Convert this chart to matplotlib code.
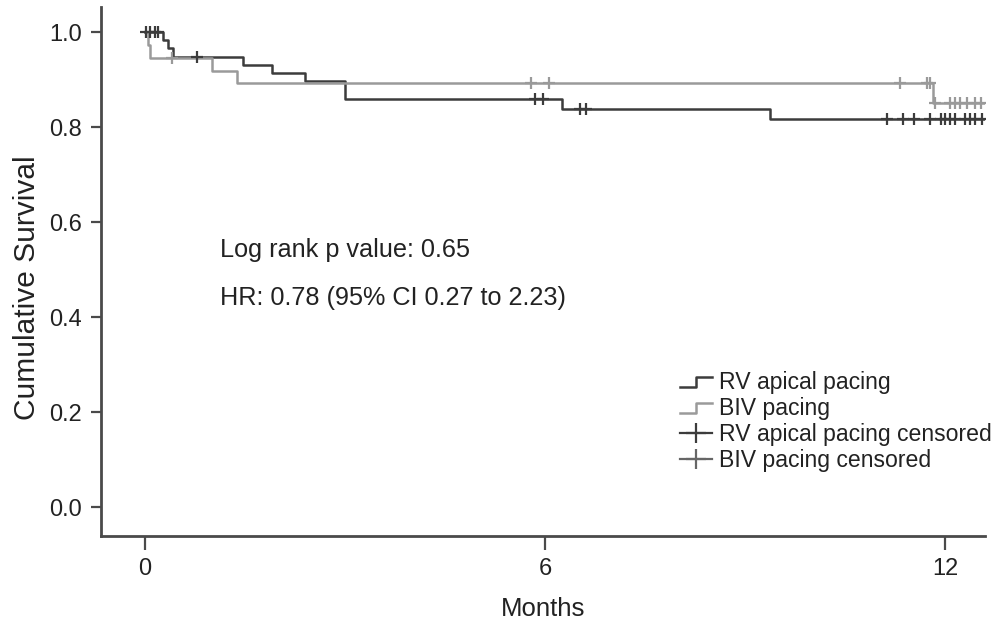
import matplotlib
matplotlib.use("Agg")
import matplotlib.pyplot as plt
import numpy as np
from matplotlib.legend_handler import HandlerBase
from matplotlib.lines import Line2D

plt.rcParams['font.family'] = ['Liberation Sans', 'DejaVu Sans']

# Kaplan-Meier step data (months, cumulative survival)
rv_times = [0.0, 0.27, 0.35, 0.42, 1.47, 1.90, 2.40, 3.00, 6.25, 9.37, 12.60]
rv_surv = [1.0, 0.983, 0.966, 0.948, 0.931, 0.914, 0.897, 0.860, 0.838, 0.816, 0.816]
biv_times = [0.0, 0.04, 0.08, 1.00, 1.38, 11.82, 12.60]
biv_surv = [1.0, 0.973, 0.946, 0.919, 0.892, 0.850, 0.850]

# censoring times
rv_censored = [0.02, 0.08, 0.15, 0.20, 0.78, 5.85, 5.97, 6.52, 6.62,
               11.13, 11.37, 11.54, 11.78, 11.94, 12.00, 12.07, 12.15,
               12.30, 12.37, 12.45, 12.55]
biv_censored = [0.40, 5.79, 6.06, 11.33, 11.73, 11.78, 11.85, 12.07, 12.15,
                12.22, 12.33, 12.45, 12.54]

x_ticks = [0, 6, 12]
y_ticks = [0.0, 0.2, 0.4, 0.6, 0.8, 1.0]

dark = '#3c3c3c'
light = '#9a9a9a'


def surv_at(times, surv, t):
    idx = np.searchsorted(times, t, side='right') - 1
    return np.asarray(surv)[idx]


class StepHandler(HandlerBase):
    def create_artists(self, legend, orig_handle, xdescent, ydescent,
                       width, height, fontsize, trans):
        x0, x1 = -xdescent, -xdescent + width
        xm = x0 + 0.5 * width
        ylo, yhi = -ydescent + 0.15 * height, -ydescent + 0.75 * height
        line = Line2D([x0, xm, xm, x1], [ylo, ylo, yhi, yhi],
                      color=orig_handle.get_color(),
                      lw=orig_handle.get_linewidth(), transform=trans)
        return [line]


fig = plt.figure(figsize=(10.01, 6.22), dpi=100)
ax = fig.add_axes([0.101, 0.138, 0.883, 0.851])

l_rv, = ax.step(rv_times, rv_surv, where='post', color=dark, lw=1.8)
l_biv, = ax.step(biv_times, biv_surv, where='post', color=light, lw=1.8)

rv_c_y = surv_at(rv_times, rv_surv, rv_censored)
biv_c_y = surv_at(biv_times, biv_surv, biv_censored)
c_rv, = ax.plot(rv_censored, rv_c_y, ls='none', marker='+', ms=9, mew=1.6,
                color=dark)
c_biv, = ax.plot(biv_censored, biv_c_y, ls='none', marker='+', ms=9, mew=1.6,
                 color=light)

ax.text(1.12, 0.541, 'Log rank p value: 0.65', fontsize=18.2, va='center',
        color='#222222')
ax.text(1.12, 0.441, 'HR: 0.78 (95% CI 0.27 to 2.23)', fontsize=18.2,
        va='center', color='#222222')

h_rv = Line2D([], [], color=dark, lw=1.8)
h_biv = Line2D([], [], color=light, lw=1.8)
h_crv = Line2D([], [], color=dark, lw=1.6, marker='+', ms=14, mew=1.6)
h_cbiv = Line2D([], [], color='#666666', lw=1.6, marker='+', ms=14, mew=1.6)
leg = ax.legend([h_rv, h_biv, h_crv, h_cbiv],
                ['RV apical pacing', 'BIV pacing', 'RV apical pacing censored',
                 'BIV pacing censored'],
                handler_map={h_rv: StepHandler(), h_biv: StepHandler()},
                loc='upper left', bbox_to_anchor=(0.655, 0.312),
                frameon=False, fontsize=16.6, handlelength=1.4,
                handletextpad=0.3, labelspacing=0.13, borderpad=0,
                borderaxespad=0)
for t in leg.get_texts():
    t.set_color('#222222')

ax.set_xlim(-0.66, 12.6)
ax.set_ylim(-0.061, 1.053)
ax.set_xticks(x_ticks)
ax.set_yticks(y_ticks)
ax.set_yticklabels(['{:.1f}'.format(v) for v in y_ticks])

for side in ['top', 'right']:
    ax.spines[side].set_visible(False)
for side in ['left', 'bottom']:
    ax.spines[side].set_color('#4a4a4a')
    ax.spines[side].set_linewidth(2.0)

ax.tick_params(axis='both', colors='#4a4a4a', width=1.6, labelsize=17,
               labelcolor='#222222')
ax.tick_params(axis='x', length=10, pad=6)
ax.tick_params(axis='y', length=7, pad=7)

ax.set_xlabel('Months', fontsize=18.5, color='#222222', labelpad=12)
ax.set_ylabel('Cumulative Survival', fontsize=21.5, color='#222222')
ax.yaxis.set_label_coords(-0.068, 0.469)

fig.savefig('out.png', dpi=100)
